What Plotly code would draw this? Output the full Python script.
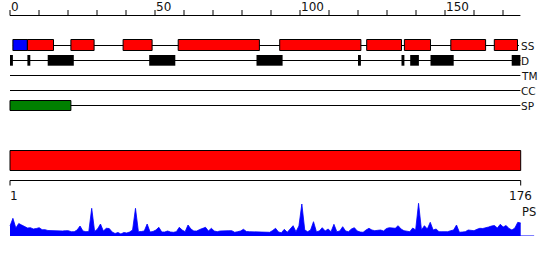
import plotly.graph_objects as go

# ---------------- data ----------------
seq_length = 176
ruler_ticks = list(range(0, 171, 10))
ruler_labels = [0, 50, 100, 150]
ss_strand = [(1, 6)]
ss_helix = [(6, 15), (21, 29), (39, 49), (58, 86), (93, 121), (123, 135),
            (136, 145), (152, 164), (167, 175)]
disorder = [(0, 1), (6, 7), (13, 22), (48, 57), (85, 94), (120, 121),
            (135, 136), (138, 141), (145, 153), (173, 176)]
signal_peptide = [(0, 21)]
domain_bar = [(1, 176)]
track_names = ["SS", "D", "TM", "CC", "SP"]
ps_score = [
    10, 17.7, 8, 12.5, 11, 9.5, 8, 8.3, 7, 7.5,
    8.3, 6.3, 6.3, 5.5, 5.3, 5.3, 5.3, 5, 5, 5.3,
    5.3, 4.3, 4.3, 6, 10, 5, 4.3, 4.5, 27.7, 4.5,
    7, 12, 5, 7.7, 7.5, 4, 2.5, 3.5, 2, 3.5,
    3, 4, 6, 27.7, 4.3, 4.5, 5, 12, 4, 4.5,
    6, 8.7, 4, 4, 5, 4, 3.7, 4.3, 8.7, 6,
    4.3, 11, 7, 5, 5, 6.5, 7.5, 8.7, 5, 7.7,
    5, 4.3, 5, 5.3, 5.3, 5.3, 5.3, 3.7, 4.3, 5,
    6.7, 4.5, 4.3, 4.3, 3.7, 3.7, 3.7, 4.3, 3.7, 3.7,
    5.5, 7.7, 4, 3.3, 6.7, 3.7, 7, 10.3, 4.3, 10,
    32, 6, 4.3, 6, 14.3, 4.3, 5, 8.3, 5, 7,
    4.3, 11.7, 4.3, 5, 9.3, 5, 4.3, 7, 8.3, 5,
    4, 3.7, 6, 7.7, 6, 5.3, 5.7, 6, 5, 7.5,
    8.3, 7.7, 7.7, 10.3, 7, 5.3, 5, 4.3, 8, 6,
    32.7, 6, 10.3, 7, 13.7, 6, 7, 4.3, 4.3, 4.3,
    4.3, 5.3, 6, 11, 3.7, 4, 4.3, 6, 6, 5.3,
    6.7, 7.7, 7.5, 8, 9, 10, 10.5, 8, 11.7, 9,
    10.5, 7.5, 6, 8, 13.7, 13,
]
residues = list(range(1, seq_length + 1))

# ---------------- layout constants ----------------
W, H = 550, 260
FONT = "DejaVu Sans"
BLACK = "#000000"
TEXT = "#111111"
RED = "#FF0000"
BLUE = "#0000FF"
GREEN = "#008000"
px_per_unit = 2.9          # top ruler scale
px_per_res = 2.9183        # residue scale (bottom part)
left_px = 10
row_y = {"SS": 45.5, "D": 60.5, "TM": 75.5, "CC": 90.5, "SP": 105.5}
ps_extend_to = 180.6

fig = go.Figure()
shapes = []
annotations = []


def hline(x0, x1, y, xref="x", color=BLACK, width=1):
    shapes.append(dict(type="line", xref=xref, yref="y", x0=x0, x1=x1, y0=y, y1=y,
                       line=dict(color=color, width=width)))


def box(x0, x1, y0, y1, fill, outline=True, xref="x"):
    shapes.append(dict(type="rect", xref=xref, yref="y", x0=x0, x1=x1, y0=y0, y1=y1,
                       fillcolor=fill,
                       line=dict(color=BLACK, width=1 if outline else 0)))


# top ruler
hline(0, seq_length, 15.5)
for t in ruler_ticks:
    shapes.append(dict(type="line", xref="x", yref="y", x0=t, x1=t, y0=10, y1=15.5,
                       line=dict(color=BLACK, width=1)))
for t in ruler_labels:
    annotations.append(dict(x=t, y=7, xref="x", yref="y", text=str(t), showarrow=False,
                            xanchor="left", yanchor="middle", borderpad=0,
                            font=dict(family=FONT, size=12, color=TEXT)))

# track baselines
hline(1, 175.5, row_y["SS"])
for name in ["D", "TM", "CC", "SP"]:
    hline(0, seq_length, row_y[name])

# SS
for a, b in ss_strand:
    box(a, b, 39.5, 50.5, BLUE)
for a, b in ss_helix:
    box(a, b, 39.5, 50.5, RED)
# Disorder
for a, b in disorder:
    box(a, b, 55, 65.7, BLACK, outline=False)
# Signal peptide
for a, b in signal_peptide:
    box(a, b, 100.5, 110.5, GREEN)

for name in track_names:
    annotations.append(dict(x=seq_length, y=row_y[name] + 0.3, xref="x", yref="y",
                            text=name, showarrow=False, xanchor="left", yanchor="middle",
                            borderpad=0, xshift=0,
                            font=dict(family=FONT, size=10.5, color=TEXT)))

# domain bar
for a, b in domain_bar:
    box(a, b, 150.5, 170.5, RED, xref="x2")

# bottom ruler
hline(1, seq_length, 180.5, xref="x2")
for t in [1, seq_length]:
    shapes.append(dict(type="line", xref="x2", yref="y", x0=t, x1=t, y0=180.5, y1=185.5,
                       line=dict(color=BLACK, width=1)))
annotations.append(dict(x=1, y=196, xref="x2", yref="y", text="1", showarrow=False,
                        xanchor="left", yanchor="middle", borderpad=0, xshift=-1,
                        font=dict(family=FONT, size=12, color=TEXT)))
annotations.append(dict(x=seq_length, y=196, xref="x2", yref="y", text=str(seq_length),
                        showarrow=False, xanchor="center", yanchor="middle", borderpad=0,
                        font=dict(family=FONT, size=12, color=TEXT)))
annotations.append(dict(x=seq_length, y=211.5, xref="x2", yref="y", text="PS",
                        showarrow=False, xanchor="left", yanchor="middle", borderpad=0,
                        font=dict(family=FONT, size=11.5, color=TEXT)))

# PS area
fig.add_trace(go.Scatter(x=[1, ps_extend_to], y=[0, 0], mode="lines",
                         line=dict(color=BLUE, width=1.2), xaxis="x2", yaxis="y2",
                         hoverinfo="skip", showlegend=False))
fig.add_trace(go.Scatter(x=residues, y=ps_score, mode="lines", fill="tozeroy",
                         fillcolor=BLUE, line=dict(color=BLUE, width=0.8),
                         xaxis="x2", yaxis="y2", hoverinfo="skip", showlegend=False))
# anchor trace for the track axes
fig.add_trace(go.Scatter(x=[0], y=[0], mode="markers", marker=dict(opacity=0),
                         xaxis="x", yaxis="y", hoverinfo="skip", showlegend=False))

x_lo = -left_px / px_per_unit
x_hi = (W - left_px) / px_per_unit
x2_lo = 1 - left_px / px_per_res
x2_hi = x2_lo + W / px_per_res

base_px = 236
ps_top = 36
fig.update_layout(
    width=W, height=H,
    margin=dict(l=0, r=0, t=0, b=0),
    paper_bgcolor="white", plot_bgcolor="white",
    showlegend=False,
    shapes=shapes,
    annotations=annotations,
    xaxis=dict(range=[x_lo, x_hi], domain=[0, 1], visible=False, fixedrange=True),
    yaxis=dict(range=[H, 0], domain=[0, 1], visible=False, fixedrange=True),
    xaxis2=dict(range=[x2_lo, x2_hi], domain=[0, 1], visible=False, anchor="y2",
                fixedrange=True),
    yaxis2=dict(range=[0, ps_top], domain=[(H - base_px) / H, (H - base_px + ps_top) / H],
                visible=False, anchor="x2", fixedrange=True),
)

fig.write_html("out.html")
